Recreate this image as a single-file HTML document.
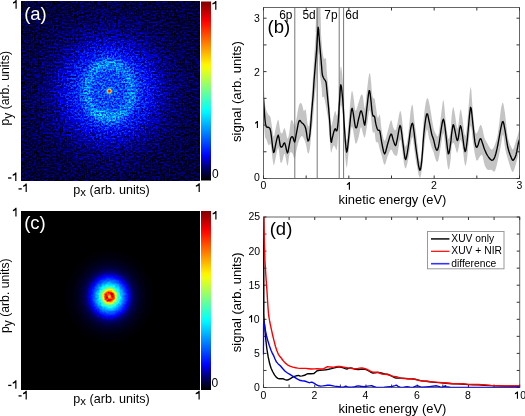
<!DOCTYPE html>
<html><head><meta charset="utf-8"><style>
html,body{margin:0;padding:0;background:#fff;width:525px;height:416px;overflow:hidden}
svg{display:block;will-change:transform}
text{font-family:"Liberation Sans",sans-serif}
</style></head><body>
<svg width="525" height="416" viewBox="0 0 525 416">
<defs>
<linearGradient id="jetv" x1="0" y1="1" x2="0" y2="0">
<stop offset="0.000" stop-color="#000000"/>
<stop offset="0.025" stop-color="#000026"/>
<stop offset="0.050" stop-color="#00004c"/>
<stop offset="0.075" stop-color="#000076"/>
<stop offset="0.100" stop-color="#0000aa"/>
<stop offset="0.125" stop-color="#0000df"/>
<stop offset="0.150" stop-color="#000aff"/>
<stop offset="0.175" stop-color="#0024ff"/>
<stop offset="0.200" stop-color="#003dff"/>
<stop offset="0.225" stop-color="#0057ff"/>
<stop offset="0.250" stop-color="#0070ff"/>
<stop offset="0.275" stop-color="#008aff"/>
<stop offset="0.300" stop-color="#00a3ff"/>
<stop offset="0.325" stop-color="#00bdff"/>
<stop offset="0.350" stop-color="#00d6ff"/>
<stop offset="0.375" stop-color="#00f0ff"/>
<stop offset="0.400" stop-color="#0afff5"/>
<stop offset="0.425" stop-color="#24ffdb"/>
<stop offset="0.450" stop-color="#3dffc2"/>
<stop offset="0.475" stop-color="#57ffa8"/>
<stop offset="0.500" stop-color="#70ff8f"/>
<stop offset="0.525" stop-color="#8aff75"/>
<stop offset="0.550" stop-color="#a3ff5c"/>
<stop offset="0.575" stop-color="#bdff42"/>
<stop offset="0.600" stop-color="#d6ff29"/>
<stop offset="0.625" stop-color="#f0ff0f"/>
<stop offset="0.650" stop-color="#fff500"/>
<stop offset="0.675" stop-color="#ffdb00"/>
<stop offset="0.700" stop-color="#ffc200"/>
<stop offset="0.725" stop-color="#ffa800"/>
<stop offset="0.750" stop-color="#ff8f00"/>
<stop offset="0.775" stop-color="#ff7500"/>
<stop offset="0.800" stop-color="#ff5c00"/>
<stop offset="0.825" stop-color="#ff4200"/>
<stop offset="0.850" stop-color="#ff2900"/>
<stop offset="0.875" stop-color="#ff0f00"/>
<stop offset="0.900" stop-color="#f30000"/>
<stop offset="0.925" stop-color="#d60000"/>
<stop offset="0.950" stop-color="#b90000"/>
<stop offset="0.975" stop-color="#9c0000"/>
<stop offset="1.000" stop-color="#800000"/>
</linearGradient>
<radialGradient id="gah" gradientUnits="userSpaceOnUse" cx="109.3" cy="91.1" r="130">
<stop offset="0.0000" stop-color="#373737"/>
<stop offset="0.0077" stop-color="#373737"/>
<stop offset="0.0154" stop-color="#373737"/>
<stop offset="0.0231" stop-color="#363636"/>
<stop offset="0.0308" stop-color="#363636"/>
<stop offset="0.0385" stop-color="#363636"/>
<stop offset="0.0462" stop-color="#363636"/>
<stop offset="0.0538" stop-color="#363636"/>
<stop offset="0.0615" stop-color="#363636"/>
<stop offset="0.0692" stop-color="#363636"/>
<stop offset="0.0769" stop-color="#363636"/>
<stop offset="0.0846" stop-color="#353535"/>
<stop offset="0.0923" stop-color="#353535"/>
<stop offset="0.1000" stop-color="#353535"/>
<stop offset="0.1077" stop-color="#343434"/>
<stop offset="0.1154" stop-color="#343434"/>
<stop offset="0.1231" stop-color="#343434"/>
<stop offset="0.1308" stop-color="#333333"/>
<stop offset="0.1385" stop-color="#333333"/>
<stop offset="0.1462" stop-color="#333333"/>
<stop offset="0.1538" stop-color="#323232"/>
<stop offset="0.1615" stop-color="#323232"/>
<stop offset="0.1692" stop-color="#313131"/>
<stop offset="0.1769" stop-color="#313131"/>
<stop offset="0.1846" stop-color="#303030"/>
<stop offset="0.1923" stop-color="#303030"/>
<stop offset="0.2000" stop-color="#303030"/>
<stop offset="0.2077" stop-color="#2f2f2f"/>
<stop offset="0.2154" stop-color="#2f2f2f"/>
<stop offset="0.2231" stop-color="#2e2e2e"/>
<stop offset="0.2308" stop-color="#2e2e2e"/>
<stop offset="0.2385" stop-color="#2d2d2d"/>
<stop offset="0.2462" stop-color="#2c2c2c"/>
<stop offset="0.2538" stop-color="#2c2c2c"/>
<stop offset="0.2615" stop-color="#2b2b2b"/>
<stop offset="0.2692" stop-color="#2a2a2a"/>
<stop offset="0.2769" stop-color="#292929"/>
<stop offset="0.2846" stop-color="#282828"/>
<stop offset="0.2923" stop-color="#282828"/>
<stop offset="0.3000" stop-color="#262626"/>
<stop offset="0.3077" stop-color="#252525"/>
<stop offset="0.3154" stop-color="#242424"/>
<stop offset="0.3231" stop-color="#232323"/>
<stop offset="0.3308" stop-color="#222222"/>
<stop offset="0.3385" stop-color="#212121"/>
<stop offset="0.3462" stop-color="#202020"/>
<stop offset="0.3538" stop-color="#1f1f1f"/>
<stop offset="0.3615" stop-color="#1e1e1e"/>
<stop offset="0.3692" stop-color="#1d1d1d"/>
<stop offset="0.3769" stop-color="#1c1c1c"/>
<stop offset="0.3846" stop-color="#1b1b1b"/>
<stop offset="0.3923" stop-color="#1b1b1b"/>
<stop offset="0.4000" stop-color="#1a1a1a"/>
<stop offset="0.4077" stop-color="#191919"/>
<stop offset="0.4154" stop-color="#181818"/>
<stop offset="0.4231" stop-color="#171717"/>
<stop offset="0.4308" stop-color="#161616"/>
<stop offset="0.4385" stop-color="#161616"/>
<stop offset="0.4462" stop-color="#151515"/>
<stop offset="0.4538" stop-color="#151515"/>
<stop offset="0.4615" stop-color="#141414"/>
<stop offset="0.4692" stop-color="#131313"/>
<stop offset="0.4769" stop-color="#131313"/>
<stop offset="0.4846" stop-color="#121212"/>
<stop offset="0.4923" stop-color="#111111"/>
<stop offset="0.5000" stop-color="#111111"/>
<stop offset="0.5077" stop-color="#111111"/>
<stop offset="0.5154" stop-color="#101010"/>
<stop offset="0.5231" stop-color="#101010"/>
<stop offset="0.5308" stop-color="#101010"/>
<stop offset="0.5385" stop-color="#0f0f0f"/>
<stop offset="0.5462" stop-color="#0f0f0f"/>
<stop offset="0.5538" stop-color="#0f0f0f"/>
<stop offset="0.5615" stop-color="#0e0e0e"/>
<stop offset="0.5692" stop-color="#0e0e0e"/>
<stop offset="0.5769" stop-color="#0e0e0e"/>
<stop offset="0.5846" stop-color="#0d0d0d"/>
<stop offset="0.5923" stop-color="#0d0d0d"/>
<stop offset="0.6000" stop-color="#0d0d0d"/>
<stop offset="0.6077" stop-color="#0d0d0d"/>
<stop offset="0.6154" stop-color="#0c0c0c"/>
<stop offset="0.6231" stop-color="#0c0c0c"/>
<stop offset="0.6308" stop-color="#0c0c0c"/>
<stop offset="0.6385" stop-color="#0c0c0c"/>
<stop offset="0.6462" stop-color="#0c0c0c"/>
<stop offset="0.6538" stop-color="#0c0c0c"/>
<stop offset="0.6615" stop-color="#0b0b0b"/>
<stop offset="0.6692" stop-color="#0b0b0b"/>
<stop offset="0.6769" stop-color="#0b0b0b"/>
<stop offset="0.6846" stop-color="#0b0b0b"/>
<stop offset="0.6923" stop-color="#0b0b0b"/>
<stop offset="0.7000" stop-color="#0b0b0b"/>
<stop offset="0.7077" stop-color="#0b0b0b"/>
<stop offset="0.7154" stop-color="#0b0b0b"/>
<stop offset="0.7231" stop-color="#0a0a0a"/>
<stop offset="0.7308" stop-color="#0a0a0a"/>
<stop offset="0.7385" stop-color="#0a0a0a"/>
<stop offset="0.7462" stop-color="#0a0a0a"/>
<stop offset="0.7538" stop-color="#0a0a0a"/>
<stop offset="0.7615" stop-color="#0a0a0a"/>
<stop offset="0.7692" stop-color="#0a0a0a"/>
<stop offset="0.7769" stop-color="#0a0a0a"/>
<stop offset="0.7846" stop-color="#0a0a0a"/>
<stop offset="0.7923" stop-color="#0a0a0a"/>
<stop offset="0.8000" stop-color="#0a0a0a"/>
<stop offset="0.8077" stop-color="#0a0a0a"/>
<stop offset="0.8154" stop-color="#090909"/>
<stop offset="0.8231" stop-color="#090909"/>
<stop offset="0.8308" stop-color="#090909"/>
<stop offset="0.8385" stop-color="#090909"/>
<stop offset="0.8462" stop-color="#090909"/>
<stop offset="0.8538" stop-color="#090909"/>
<stop offset="0.8615" stop-color="#090909"/>
<stop offset="0.8692" stop-color="#090909"/>
<stop offset="0.8769" stop-color="#090909"/>
<stop offset="0.8846" stop-color="#090909"/>
<stop offset="0.8923" stop-color="#090909"/>
<stop offset="0.9000" stop-color="#090909"/>
<stop offset="0.9077" stop-color="#090909"/>
<stop offset="0.9154" stop-color="#090909"/>
<stop offset="0.9231" stop-color="#090909"/>
<stop offset="0.9308" stop-color="#090909"/>
<stop offset="0.9385" stop-color="#090909"/>
<stop offset="0.9462" stop-color="#090909"/>
<stop offset="0.9538" stop-color="#090909"/>
<stop offset="0.9615" stop-color="#090909"/>
<stop offset="0.9692" stop-color="#090909"/>
<stop offset="0.9769" stop-color="#090909"/>
<stop offset="0.9846" stop-color="#090909"/>
<stop offset="0.9923" stop-color="#090909"/>
<stop offset="1.0000" stop-color="#090909"/>
</radialGradient>
<radialGradient id="gar" gradientUnits="userSpaceOnUse" cx="109.3" cy="91.1" r="60" gradientTransform="translate(109.3 91.1) scale(1 1.25) translate(-109.3 -91.1)">
<stop offset="0.0000" stop-color="#fff" stop-opacity="0.0000"/>
<stop offset="0.0083" stop-color="#fff" stop-opacity="0.0000"/>
<stop offset="0.0167" stop-color="#fff" stop-opacity="0.0000"/>
<stop offset="0.0250" stop-color="#fff" stop-opacity="0.0000"/>
<stop offset="0.0333" stop-color="#fff" stop-opacity="0.0000"/>
<stop offset="0.0417" stop-color="#fff" stop-opacity="0.0000"/>
<stop offset="0.0500" stop-color="#fff" stop-opacity="0.0000"/>
<stop offset="0.0583" stop-color="#fff" stop-opacity="0.0000"/>
<stop offset="0.0667" stop-color="#fff" stop-opacity="0.0000"/>
<stop offset="0.0750" stop-color="#fff" stop-opacity="0.0000"/>
<stop offset="0.0833" stop-color="#fff" stop-opacity="0.0000"/>
<stop offset="0.0917" stop-color="#fff" stop-opacity="0.0000"/>
<stop offset="0.1000" stop-color="#fff" stop-opacity="0.0000"/>
<stop offset="0.1083" stop-color="#fff" stop-opacity="0.0000"/>
<stop offset="0.1167" stop-color="#fff" stop-opacity="0.0000"/>
<stop offset="0.1250" stop-color="#fff" stop-opacity="0.0000"/>
<stop offset="0.1333" stop-color="#fff" stop-opacity="0.0000"/>
<stop offset="0.1417" stop-color="#fff" stop-opacity="0.0000"/>
<stop offset="0.1500" stop-color="#fff" stop-opacity="0.0001"/>
<stop offset="0.1583" stop-color="#fff" stop-opacity="0.0001"/>
<stop offset="0.1667" stop-color="#fff" stop-opacity="0.0002"/>
<stop offset="0.1750" stop-color="#fff" stop-opacity="0.0003"/>
<stop offset="0.1833" stop-color="#fff" stop-opacity="0.0005"/>
<stop offset="0.1917" stop-color="#fff" stop-opacity="0.0008"/>
<stop offset="0.2000" stop-color="#fff" stop-opacity="0.0012"/>
<stop offset="0.2083" stop-color="#fff" stop-opacity="0.0017"/>
<stop offset="0.2167" stop-color="#fff" stop-opacity="0.0026"/>
<stop offset="0.2250" stop-color="#fff" stop-opacity="0.0037"/>
<stop offset="0.2333" stop-color="#fff" stop-opacity="0.0053"/>
<stop offset="0.2417" stop-color="#fff" stop-opacity="0.0073"/>
<stop offset="0.2500" stop-color="#fff" stop-opacity="0.0100"/>
<stop offset="0.2583" stop-color="#fff" stop-opacity="0.0134"/>
<stop offset="0.2667" stop-color="#fff" stop-opacity="0.0175"/>
<stop offset="0.2750" stop-color="#fff" stop-opacity="0.0225"/>
<stop offset="0.2833" stop-color="#fff" stop-opacity="0.0283"/>
<stop offset="0.2917" stop-color="#fff" stop-opacity="0.0349"/>
<stop offset="0.3000" stop-color="#fff" stop-opacity="0.0423"/>
<stop offset="0.3083" stop-color="#fff" stop-opacity="0.0501"/>
<stop offset="0.3167" stop-color="#fff" stop-opacity="0.0582"/>
<stop offset="0.3250" stop-color="#fff" stop-opacity="0.0663"/>
<stop offset="0.3333" stop-color="#fff" stop-opacity="0.0740"/>
<stop offset="0.3417" stop-color="#fff" stop-opacity="0.0810"/>
<stop offset="0.3500" stop-color="#fff" stop-opacity="0.0868"/>
<stop offset="0.3583" stop-color="#fff" stop-opacity="0.0913"/>
<stop offset="0.3667" stop-color="#fff" stop-opacity="0.0941"/>
<stop offset="0.3750" stop-color="#fff" stop-opacity="0.0950"/>
<stop offset="0.3833" stop-color="#fff" stop-opacity="0.0941"/>
<stop offset="0.3917" stop-color="#fff" stop-opacity="0.0913"/>
<stop offset="0.4000" stop-color="#fff" stop-opacity="0.0868"/>
<stop offset="0.4083" stop-color="#fff" stop-opacity="0.0810"/>
<stop offset="0.4167" stop-color="#fff" stop-opacity="0.0740"/>
<stop offset="0.4250" stop-color="#fff" stop-opacity="0.0663"/>
<stop offset="0.4333" stop-color="#fff" stop-opacity="0.0582"/>
<stop offset="0.4417" stop-color="#fff" stop-opacity="0.0501"/>
<stop offset="0.4500" stop-color="#fff" stop-opacity="0.0423"/>
<stop offset="0.4583" stop-color="#fff" stop-opacity="0.0349"/>
<stop offset="0.4667" stop-color="#fff" stop-opacity="0.0283"/>
<stop offset="0.4750" stop-color="#fff" stop-opacity="0.0225"/>
<stop offset="0.4833" stop-color="#fff" stop-opacity="0.0175"/>
<stop offset="0.4917" stop-color="#fff" stop-opacity="0.0134"/>
<stop offset="0.5000" stop-color="#fff" stop-opacity="0.0100"/>
<stop offset="0.5083" stop-color="#fff" stop-opacity="0.0073"/>
<stop offset="0.5167" stop-color="#fff" stop-opacity="0.0053"/>
<stop offset="0.5250" stop-color="#fff" stop-opacity="0.0037"/>
<stop offset="0.5333" stop-color="#fff" stop-opacity="0.0026"/>
<stop offset="0.5417" stop-color="#fff" stop-opacity="0.0017"/>
<stop offset="0.5500" stop-color="#fff" stop-opacity="0.0012"/>
<stop offset="0.5583" stop-color="#fff" stop-opacity="0.0008"/>
<stop offset="0.5667" stop-color="#fff" stop-opacity="0.0005"/>
<stop offset="0.5750" stop-color="#fff" stop-opacity="0.0003"/>
<stop offset="0.5833" stop-color="#fff" stop-opacity="0.0002"/>
<stop offset="0.5917" stop-color="#fff" stop-opacity="0.0001"/>
<stop offset="0.6000" stop-color="#fff" stop-opacity="0.0001"/>
<stop offset="0.6083" stop-color="#fff" stop-opacity="0.0000"/>
<stop offset="0.6167" stop-color="#fff" stop-opacity="0.0000"/>
<stop offset="0.6250" stop-color="#fff" stop-opacity="0.0000"/>
<stop offset="0.6333" stop-color="#fff" stop-opacity="0.0000"/>
<stop offset="0.6417" stop-color="#fff" stop-opacity="0.0000"/>
<stop offset="0.6500" stop-color="#fff" stop-opacity="0.0000"/>
<stop offset="0.6583" stop-color="#fff" stop-opacity="0.0000"/>
<stop offset="0.6667" stop-color="#fff" stop-opacity="0.0000"/>
<stop offset="0.6750" stop-color="#fff" stop-opacity="0.0000"/>
<stop offset="0.6833" stop-color="#fff" stop-opacity="0.0000"/>
<stop offset="0.6917" stop-color="#fff" stop-opacity="0.0000"/>
<stop offset="0.7000" stop-color="#fff" stop-opacity="0.0000"/>
<stop offset="0.7083" stop-color="#fff" stop-opacity="0.0000"/>
<stop offset="0.7167" stop-color="#fff" stop-opacity="0.0000"/>
<stop offset="0.7250" stop-color="#fff" stop-opacity="0.0000"/>
<stop offset="0.7333" stop-color="#fff" stop-opacity="0.0000"/>
<stop offset="0.7417" stop-color="#fff" stop-opacity="0.0000"/>
<stop offset="0.7500" stop-color="#fff" stop-opacity="0.0000"/>
<stop offset="0.7583" stop-color="#fff" stop-opacity="0.0000"/>
<stop offset="0.7667" stop-color="#fff" stop-opacity="0.0000"/>
<stop offset="0.7750" stop-color="#fff" stop-opacity="0.0000"/>
<stop offset="0.7833" stop-color="#fff" stop-opacity="0.0000"/>
<stop offset="0.7917" stop-color="#fff" stop-opacity="0.0000"/>
<stop offset="0.8000" stop-color="#fff" stop-opacity="0.0000"/>
<stop offset="0.8083" stop-color="#fff" stop-opacity="0.0000"/>
<stop offset="0.8167" stop-color="#fff" stop-opacity="0.0000"/>
<stop offset="0.8250" stop-color="#fff" stop-opacity="0.0000"/>
<stop offset="0.8333" stop-color="#fff" stop-opacity="0.0000"/>
<stop offset="0.8417" stop-color="#fff" stop-opacity="0.0000"/>
<stop offset="0.8500" stop-color="#fff" stop-opacity="0.0000"/>
<stop offset="0.8583" stop-color="#fff" stop-opacity="0.0000"/>
<stop offset="0.8667" stop-color="#fff" stop-opacity="0.0000"/>
<stop offset="0.8750" stop-color="#fff" stop-opacity="0.0000"/>
<stop offset="0.8833" stop-color="#fff" stop-opacity="0.0000"/>
<stop offset="0.8917" stop-color="#fff" stop-opacity="0.0000"/>
<stop offset="0.9000" stop-color="#fff" stop-opacity="0.0000"/>
<stop offset="0.9083" stop-color="#fff" stop-opacity="0.0000"/>
<stop offset="0.9167" stop-color="#fff" stop-opacity="0.0000"/>
<stop offset="0.9250" stop-color="#fff" stop-opacity="0.0000"/>
<stop offset="0.9333" stop-color="#fff" stop-opacity="0.0000"/>
<stop offset="0.9417" stop-color="#fff" stop-opacity="0.0000"/>
<stop offset="0.9500" stop-color="#fff" stop-opacity="0.0000"/>
<stop offset="0.9583" stop-color="#fff" stop-opacity="0.0000"/>
<stop offset="0.9667" stop-color="#fff" stop-opacity="0.0000"/>
<stop offset="0.9750" stop-color="#fff" stop-opacity="0.0000"/>
<stop offset="0.9833" stop-color="#fff" stop-opacity="0.0000"/>
<stop offset="0.9917" stop-color="#fff" stop-opacity="0.0000"/>
<stop offset="1.0000" stop-color="#fff" stop-opacity="0.0000"/>
</radialGradient>
<radialGradient id="gbl"><stop offset="0" stop-color="#fff" stop-opacity="0.07"/><stop offset="1" stop-color="#fff" stop-opacity="0"/></radialGradient>
<radialGradient id="gbl2"><stop offset="0" stop-color="#fff" stop-opacity="0.035"/><stop offset="1" stop-color="#fff" stop-opacity="0"/></radialGradient>
<radialGradient id="gas" gradientUnits="userSpaceOnUse" cx="109.3" cy="91.1" r="6">
<stop offset="0.0000" stop-color="#c00000" stop-opacity="1.000"/>
<stop offset="0.1167" stop-color="#ff1000" stop-opacity="1.000"/>
<stop offset="0.2333" stop-color="#ff8000" stop-opacity="1.000"/>
<stop offset="0.3333" stop-color="#e0ff20" stop-opacity="0.850"/>
<stop offset="0.4667" stop-color="#30d0ff" stop-opacity="0.500"/>
<stop offset="0.6667" stop-color="#20a0ff" stop-opacity="0.200"/>
<stop offset="1.0000" stop-color="#0060ff" stop-opacity="0.000"/>
</radialGradient>
<radialGradient id="gc" gradientUnits="userSpaceOnUse" cx="109.4" cy="296.5" r="60" gradientTransform="translate(109.4 296.5) scale(1 1.06) translate(-109.4 -296.5)">
<stop offset="0.0000" stop-color="#999999"/>
<stop offset="0.0042" stop-color="#9f9f9f"/>
<stop offset="0.0083" stop-color="#a6a6a6"/>
<stop offset="0.0125" stop-color="#acacac"/>
<stop offset="0.0167" stop-color="#b2b2b2"/>
<stop offset="0.0208" stop-color="#bcbcbc"/>
<stop offset="0.0250" stop-color="#c6c6c6"/>
<stop offset="0.0292" stop-color="#cfcfcf"/>
<stop offset="0.0333" stop-color="#d9d9d9"/>
<stop offset="0.0375" stop-color="#dcdcdc"/>
<stop offset="0.0417" stop-color="#dfdfdf"/>
<stop offset="0.0458" stop-color="#e2e2e2"/>
<stop offset="0.0500" stop-color="#e6e6e6"/>
<stop offset="0.0542" stop-color="#e5e5e5"/>
<stop offset="0.0583" stop-color="#e4e4e4"/>
<stop offset="0.0625" stop-color="#e3e3e3"/>
<stop offset="0.0667" stop-color="#e2e2e2"/>
<stop offset="0.0708" stop-color="#dbdbdb"/>
<stop offset="0.0750" stop-color="#d4d4d4"/>
<stop offset="0.0792" stop-color="#cecece"/>
<stop offset="0.0833" stop-color="#c7c7c7"/>
<stop offset="0.0875" stop-color="#bfbfbf"/>
<stop offset="0.0917" stop-color="#b8b8b8"/>
<stop offset="0.0958" stop-color="#b0b0b0"/>
<stop offset="0.1000" stop-color="#a8a8a8"/>
<stop offset="0.1042" stop-color="#a3a3a3"/>
<stop offset="0.1083" stop-color="#9d9d9d"/>
<stop offset="0.1125" stop-color="#979797"/>
<stop offset="0.1167" stop-color="#919191"/>
<stop offset="0.1208" stop-color="#8d8d8d"/>
<stop offset="0.1250" stop-color="#888888"/>
<stop offset="0.1292" stop-color="#848484"/>
<stop offset="0.1333" stop-color="#808080"/>
<stop offset="0.1375" stop-color="#7d7d7d"/>
<stop offset="0.1417" stop-color="#7a7a7a"/>
<stop offset="0.1458" stop-color="#777777"/>
<stop offset="0.1500" stop-color="#747474"/>
<stop offset="0.1542" stop-color="#717171"/>
<stop offset="0.1583" stop-color="#6e6e6e"/>
<stop offset="0.1625" stop-color="#6b6b6b"/>
<stop offset="0.1667" stop-color="#696969"/>
<stop offset="0.1708" stop-color="#666666"/>
<stop offset="0.1750" stop-color="#636363"/>
<stop offset="0.1792" stop-color="#616161"/>
<stop offset="0.1833" stop-color="#5e5e5e"/>
<stop offset="0.1875" stop-color="#5c5c5c"/>
<stop offset="0.1917" stop-color="#5a5a5a"/>
<stop offset="0.1958" stop-color="#585858"/>
<stop offset="0.2000" stop-color="#555555"/>
<stop offset="0.2042" stop-color="#535353"/>
<stop offset="0.2083" stop-color="#515151"/>
<stop offset="0.2125" stop-color="#4f4f4f"/>
<stop offset="0.2167" stop-color="#4c4c4c"/>
<stop offset="0.2208" stop-color="#4b4b4b"/>
<stop offset="0.2250" stop-color="#494949"/>
<stop offset="0.2292" stop-color="#474747"/>
<stop offset="0.2333" stop-color="#454545"/>
<stop offset="0.2375" stop-color="#434343"/>
<stop offset="0.2417" stop-color="#414141"/>
<stop offset="0.2458" stop-color="#3f3f3f"/>
<stop offset="0.2500" stop-color="#3d3d3d"/>
<stop offset="0.2542" stop-color="#3b3b3b"/>
<stop offset="0.2583" stop-color="#3a3a3a"/>
<stop offset="0.2625" stop-color="#383838"/>
<stop offset="0.2667" stop-color="#363636"/>
<stop offset="0.2708" stop-color="#343434"/>
<stop offset="0.2750" stop-color="#323232"/>
<stop offset="0.2792" stop-color="#313131"/>
<stop offset="0.2833" stop-color="#2f2f2f"/>
<stop offset="0.2875" stop-color="#2d2d2d"/>
<stop offset="0.2917" stop-color="#2b2b2b"/>
<stop offset="0.2958" stop-color="#2a2a2a"/>
<stop offset="0.3000" stop-color="#292929"/>
<stop offset="0.3042" stop-color="#282828"/>
<stop offset="0.3083" stop-color="#262626"/>
<stop offset="0.3125" stop-color="#252525"/>
<stop offset="0.3167" stop-color="#242424"/>
<stop offset="0.3208" stop-color="#222222"/>
<stop offset="0.3250" stop-color="#212121"/>
<stop offset="0.3292" stop-color="#202020"/>
<stop offset="0.3333" stop-color="#1f1f1f"/>
<stop offset="0.3375" stop-color="#1e1e1e"/>
<stop offset="0.3417" stop-color="#1d1d1d"/>
<stop offset="0.3458" stop-color="#1c1c1c"/>
<stop offset="0.3500" stop-color="#1b1b1b"/>
<stop offset="0.3542" stop-color="#1a1a1a"/>
<stop offset="0.3583" stop-color="#191919"/>
<stop offset="0.3625" stop-color="#181818"/>
<stop offset="0.3667" stop-color="#171717"/>
<stop offset="0.3708" stop-color="#161616"/>
<stop offset="0.3750" stop-color="#151515"/>
<stop offset="0.3792" stop-color="#141414"/>
<stop offset="0.3833" stop-color="#131313"/>
<stop offset="0.3875" stop-color="#121212"/>
<stop offset="0.3917" stop-color="#121212"/>
<stop offset="0.3958" stop-color="#111111"/>
<stop offset="0.4000" stop-color="#111111"/>
<stop offset="0.4042" stop-color="#101010"/>
<stop offset="0.4083" stop-color="#0f0f0f"/>
<stop offset="0.4125" stop-color="#0f0f0f"/>
<stop offset="0.4167" stop-color="#0e0e0e"/>
<stop offset="0.4208" stop-color="#0d0d0d"/>
<stop offset="0.4250" stop-color="#0d0d0d"/>
<stop offset="0.4292" stop-color="#0c0c0c"/>
<stop offset="0.4333" stop-color="#0b0b0b"/>
<stop offset="0.4375" stop-color="#0b0b0b"/>
<stop offset="0.4417" stop-color="#0b0b0b"/>
<stop offset="0.4458" stop-color="#0b0b0b"/>
<stop offset="0.4500" stop-color="#0a0a0a"/>
<stop offset="0.4542" stop-color="#0a0a0a"/>
<stop offset="0.4583" stop-color="#0a0a0a"/>
<stop offset="0.4625" stop-color="#090909"/>
<stop offset="0.4667" stop-color="#090909"/>
<stop offset="0.4708" stop-color="#090909"/>
<stop offset="0.4750" stop-color="#080808"/>
<stop offset="0.4792" stop-color="#080808"/>
<stop offset="0.4833" stop-color="#080808"/>
<stop offset="0.4875" stop-color="#070707"/>
<stop offset="0.4917" stop-color="#070707"/>
<stop offset="0.4958" stop-color="#070707"/>
<stop offset="0.5000" stop-color="#060606"/>
<stop offset="0.5042" stop-color="#060606"/>
<stop offset="0.5083" stop-color="#060606"/>
<stop offset="0.5125" stop-color="#060606"/>
<stop offset="0.5167" stop-color="#060606"/>
<stop offset="0.5208" stop-color="#060606"/>
<stop offset="0.5250" stop-color="#050505"/>
<stop offset="0.5292" stop-color="#050505"/>
<stop offset="0.5333" stop-color="#050505"/>
<stop offset="0.5375" stop-color="#050505"/>
<stop offset="0.5417" stop-color="#050505"/>
<stop offset="0.5458" stop-color="#050505"/>
<stop offset="0.5500" stop-color="#040404"/>
<stop offset="0.5542" stop-color="#040404"/>
<stop offset="0.5583" stop-color="#040404"/>
<stop offset="0.5625" stop-color="#040404"/>
<stop offset="0.5667" stop-color="#040404"/>
<stop offset="0.5708" stop-color="#040404"/>
<stop offset="0.5750" stop-color="#040404"/>
<stop offset="0.5792" stop-color="#030303"/>
<stop offset="0.5833" stop-color="#030303"/>
<stop offset="0.5875" stop-color="#030303"/>
<stop offset="0.5917" stop-color="#030303"/>
<stop offset="0.5958" stop-color="#030303"/>
<stop offset="0.6000" stop-color="#030303"/>
<stop offset="0.6042" stop-color="#020202"/>
<stop offset="0.6083" stop-color="#020202"/>
<stop offset="0.6125" stop-color="#020202"/>
<stop offset="0.6167" stop-color="#020202"/>
<stop offset="0.6208" stop-color="#020202"/>
<stop offset="0.6250" stop-color="#020202"/>
<stop offset="0.6292" stop-color="#020202"/>
<stop offset="0.6333" stop-color="#020202"/>
<stop offset="0.6375" stop-color="#020202"/>
<stop offset="0.6417" stop-color="#020202"/>
<stop offset="0.6458" stop-color="#020202"/>
<stop offset="0.6500" stop-color="#020202"/>
<stop offset="0.6542" stop-color="#020202"/>
<stop offset="0.6583" stop-color="#020202"/>
<stop offset="0.6625" stop-color="#010101"/>
<stop offset="0.6667" stop-color="#010101"/>
<stop offset="0.6708" stop-color="#010101"/>
<stop offset="0.6750" stop-color="#010101"/>
<stop offset="0.6792" stop-color="#010101"/>
<stop offset="0.6833" stop-color="#010101"/>
<stop offset="0.6875" stop-color="#010101"/>
<stop offset="0.6917" stop-color="#010101"/>
<stop offset="0.6958" stop-color="#010101"/>
<stop offset="0.7000" stop-color="#010101"/>
<stop offset="0.7042" stop-color="#010101"/>
<stop offset="0.7083" stop-color="#010101"/>
<stop offset="0.7125" stop-color="#010101"/>
<stop offset="0.7167" stop-color="#010101"/>
<stop offset="0.7208" stop-color="#000000"/>
<stop offset="0.7250" stop-color="#000000"/>
<stop offset="0.7292" stop-color="#000000"/>
<stop offset="0.7333" stop-color="#000000"/>
<stop offset="0.7375" stop-color="#000000"/>
<stop offset="0.7417" stop-color="#000000"/>
<stop offset="0.7458" stop-color="#000000"/>
<stop offset="0.7500" stop-color="#000000"/>
<stop offset="0.7542" stop-color="#000000"/>
<stop offset="0.7583" stop-color="#000000"/>
<stop offset="0.7625" stop-color="#000000"/>
<stop offset="0.7667" stop-color="#000000"/>
<stop offset="0.7708" stop-color="#000000"/>
<stop offset="0.7750" stop-color="#000000"/>
<stop offset="0.7792" stop-color="#000000"/>
<stop offset="0.7833" stop-color="#000000"/>
<stop offset="0.7875" stop-color="#000000"/>
<stop offset="0.7917" stop-color="#000000"/>
<stop offset="0.7958" stop-color="#000000"/>
<stop offset="0.8000" stop-color="#000000"/>
<stop offset="0.8042" stop-color="#000000"/>
<stop offset="0.8083" stop-color="#000000"/>
<stop offset="0.8125" stop-color="#000000"/>
<stop offset="0.8167" stop-color="#000000"/>
<stop offset="0.8208" stop-color="#000000"/>
<stop offset="0.8250" stop-color="#000000"/>
<stop offset="0.8292" stop-color="#000000"/>
<stop offset="0.8333" stop-color="#000000"/>
<stop offset="0.8375" stop-color="#000000"/>
<stop offset="0.8417" stop-color="#000000"/>
<stop offset="0.8458" stop-color="#000000"/>
<stop offset="0.8500" stop-color="#000000"/>
<stop offset="0.8542" stop-color="#000000"/>
<stop offset="0.8583" stop-color="#000000"/>
<stop offset="0.8625" stop-color="#000000"/>
<stop offset="0.8667" stop-color="#000000"/>
<stop offset="0.8708" stop-color="#000000"/>
<stop offset="0.8750" stop-color="#000000"/>
<stop offset="0.8792" stop-color="#000000"/>
<stop offset="0.8833" stop-color="#000000"/>
<stop offset="0.8875" stop-color="#000000"/>
<stop offset="0.8917" stop-color="#000000"/>
<stop offset="0.8958" stop-color="#000000"/>
<stop offset="0.9000" stop-color="#000000"/>
<stop offset="0.9042" stop-color="#000000"/>
<stop offset="0.9083" stop-color="#000000"/>
<stop offset="0.9125" stop-color="#000000"/>
<stop offset="0.9167" stop-color="#000000"/>
<stop offset="0.9208" stop-color="#000000"/>
<stop offset="0.9250" stop-color="#000000"/>
<stop offset="0.9292" stop-color="#000000"/>
<stop offset="0.9333" stop-color="#000000"/>
<stop offset="0.9375" stop-color="#000000"/>
<stop offset="0.9417" stop-color="#000000"/>
<stop offset="0.9458" stop-color="#000000"/>
<stop offset="0.9500" stop-color="#000000"/>
<stop offset="0.9542" stop-color="#000000"/>
<stop offset="0.9583" stop-color="#000000"/>
<stop offset="0.9625" stop-color="#000000"/>
<stop offset="0.9667" stop-color="#000000"/>
<stop offset="0.9708" stop-color="#000000"/>
<stop offset="0.9750" stop-color="#000000"/>
<stop offset="0.9792" stop-color="#000000"/>
<stop offset="0.9833" stop-color="#000000"/>
<stop offset="0.9875" stop-color="#000000"/>
<stop offset="0.9917" stop-color="#000000"/>
<stop offset="0.9958" stop-color="#000000"/>
<stop offset="1.0000" stop-color="#000000"/>
</radialGradient>
<filter id="fa" x="21" y="1.5" width="179" height="179" filterUnits="userSpaceOnUse" color-interpolation-filters="sRGB">
<feTurbulence type="fractalNoise" baseFrequency="0.55" numOctaves="2" seed="11" result="n"/>
<feColorMatrix in="n" type="matrix" values="1 0 0 0 0  1 0 0 0 0  1 0 0 0 0  0 0 0 0 1" result="nz"/>
<feComponentTransfer in="nz" result="nz2"><feFuncR type="linear" slope="2.2" intercept="-0.6"/><feFuncG type="linear" slope="2.2" intercept="-0.6"/><feFuncB type="linear" slope="2.2" intercept="-0.6"/></feComponentTransfer>
<feComposite in="SourceGraphic" in2="nz2" operator="arithmetic" k1="0.5" k2="0.75" k3="0.1" k4="-0.05" result="m"/>
<feComponentTransfer in="m">
<feFuncR type="table" tableValues="0.000 0.000 0.000 0.000 0.000 0.000 0.000 0.000 0.000 0.000 0.000 0.000 0.000 0.000 0.000 0.000 0.000 0.000 0.000 0.000 0.000 0.000 0.000 0.000 0.000 0.000 0.000 0.000 0.000 0.000 0.000 0.000 0.000 0.000 0.000 0.000 0.000 0.000 0.000 0.000 0.040 0.080 0.120 0.160 0.200 0.240 0.280 0.320 0.360 0.400 0.440 0.480 0.520 0.560 0.600 0.640 0.680 0.720 0.760 0.800 0.840 0.880 0.920 0.960 1.000 1.000 1.000 1.000 1.000 1.000 1.000 1.000 1.000 1.000 1.000 1.000 1.000 1.000 1.000 1.000 1.000 1.000 1.000 1.000 1.000 1.000 1.000 1.000 1.000 1.000 0.955 0.909 0.864 0.818 0.773 0.727 0.682 0.636 0.591 0.545 0.500"/>
<feFuncG type="table" tableValues="0.000 0.000 0.000 0.000 0.000 0.000 0.000 0.000 0.000 0.000 0.000 0.000 0.000 0.000 0.000 0.040 0.080 0.120 0.160 0.200 0.240 0.280 0.320 0.360 0.400 0.440 0.480 0.520 0.560 0.600 0.640 0.680 0.720 0.760 0.800 0.840 0.880 0.920 0.960 1.000 1.000 1.000 1.000 1.000 1.000 1.000 1.000 1.000 1.000 1.000 1.000 1.000 1.000 1.000 1.000 1.000 1.000 1.000 1.000 1.000 1.000 1.000 1.000 1.000 1.000 0.960 0.920 0.880 0.840 0.800 0.760 0.720 0.680 0.640 0.600 0.560 0.520 0.480 0.440 0.400 0.360 0.320 0.280 0.240 0.200 0.160 0.120 0.080 0.040 0.000 0.000 0.000 0.000 0.000 0.000 0.000 0.000 0.000 0.000 0.000 0.000"/>
<feFuncB type="table" tableValues="0.000 0.060 0.120 0.180 0.240 0.300 0.360 0.420 0.503 0.586 0.669 0.751 0.834 0.917 1.000 1.000 1.000 1.000 1.000 1.000 1.000 1.000 1.000 1.000 1.000 1.000 1.000 1.000 1.000 1.000 1.000 1.000 1.000 1.000 1.000 1.000 1.000 1.000 1.000 1.000 0.960 0.920 0.880 0.840 0.800 0.760 0.720 0.680 0.640 0.600 0.560 0.520 0.480 0.440 0.400 0.360 0.320 0.280 0.240 0.200 0.160 0.120 0.080 0.040 0.000 0.000 0.000 0.000 0.000 0.000 0.000 0.000 0.000 0.000 0.000 0.000 0.000 0.000 0.000 0.000 0.000 0.000 0.000 0.000 0.000 0.000 0.000 0.000 0.000 0.000 0.000 0.000 0.000 0.000 0.000 0.000 0.000 0.000 0.000 0.000 0.000"/>
<feFuncA type="linear" slope="0" intercept="1"/>
</feComponentTransfer>
</filter>
<filter id="fc" x="21" y="211" width="179" height="179" filterUnits="userSpaceOnUse" color-interpolation-filters="sRGB">
<feTurbulence type="fractalNoise" baseFrequency="0.45" numOctaves="1" seed="4" result="n"/>
<feColorMatrix in="n" type="matrix" values="1 0 0 0 0  1 0 0 0 0  1 0 0 0 0  0 0 0 0 1" result="nz"/>
<feComponentTransfer in="nz" result="nz2"><feFuncR type="linear" slope="2.0" intercept="-0.5"/><feFuncG type="linear" slope="2.0" intercept="-0.5"/><feFuncB type="linear" slope="2.0" intercept="-0.5"/></feComponentTransfer>
<feComposite in="SourceGraphic" in2="nz2" operator="arithmetic" k1="0.2" k2="0.9" k3="0" k4="0" result="m"/>
<feComponentTransfer in="m">
<feFuncR type="table" tableValues="0.000 0.000 0.000 0.000 0.000 0.000 0.000 0.000 0.000 0.000 0.000 0.000 0.000 0.000 0.000 0.000 0.000 0.000 0.000 0.000 0.000 0.000 0.000 0.000 0.000 0.000 0.000 0.000 0.000 0.000 0.000 0.000 0.000 0.000 0.000 0.000 0.000 0.000 0.000 0.000 0.040 0.080 0.120 0.160 0.200 0.240 0.280 0.320 0.360 0.400 0.440 0.480 0.520 0.560 0.600 0.640 0.680 0.720 0.760 0.800 0.840 0.880 0.920 0.960 1.000 1.000 1.000 1.000 1.000 1.000 1.000 1.000 1.000 1.000 1.000 1.000 1.000 1.000 1.000 1.000 1.000 1.000 1.000 1.000 1.000 1.000 1.000 1.000 1.000 1.000 0.955 0.909 0.864 0.818 0.773 0.727 0.682 0.636 0.591 0.545 0.500"/>
<feFuncG type="table" tableValues="0.000 0.000 0.000 0.000 0.000 0.000 0.000 0.000 0.000 0.000 0.000 0.000 0.000 0.000 0.000 0.040 0.080 0.120 0.160 0.200 0.240 0.280 0.320 0.360 0.400 0.440 0.480 0.520 0.560 0.600 0.640 0.680 0.720 0.760 0.800 0.840 0.880 0.920 0.960 1.000 1.000 1.000 1.000 1.000 1.000 1.000 1.000 1.000 1.000 1.000 1.000 1.000 1.000 1.000 1.000 1.000 1.000 1.000 1.000 1.000 1.000 1.000 1.000 1.000 1.000 0.960 0.920 0.880 0.840 0.800 0.760 0.720 0.680 0.640 0.600 0.560 0.520 0.480 0.440 0.400 0.360 0.320 0.280 0.240 0.200 0.160 0.120 0.080 0.040 0.000 0.000 0.000 0.000 0.000 0.000 0.000 0.000 0.000 0.000 0.000 0.000"/>
<feFuncB type="table" tableValues="0.000 0.060 0.120 0.180 0.240 0.300 0.360 0.420 0.503 0.586 0.669 0.751 0.834 0.917 1.000 1.000 1.000 1.000 1.000 1.000 1.000 1.000 1.000 1.000 1.000 1.000 1.000 1.000 1.000 1.000 1.000 1.000 1.000 1.000 1.000 1.000 1.000 1.000 1.000 1.000 0.960 0.920 0.880 0.840 0.800 0.760 0.720 0.680 0.640 0.600 0.560 0.520 0.480 0.440 0.400 0.360 0.320 0.280 0.240 0.200 0.160 0.120 0.080 0.040 0.000 0.000 0.000 0.000 0.000 0.000 0.000 0.000 0.000 0.000 0.000 0.000 0.000 0.000 0.000 0.000 0.000 0.000 0.000 0.000 0.000 0.000 0.000 0.000 0.000 0.000 0.000 0.000 0.000 0.000 0.000 0.000 0.000 0.000 0.000 0.000 0.000"/>
<feFuncA type="linear" slope="0" intercept="1"/>
</feComponentTransfer>
</filter>
<clipPath id="cb"><rect x="263.5" y="7.5" width="256.0" height="171.0"/></clipPath>
<clipPath id="cd"><rect x="262.5" y="217.0" width="257.20000000000005" height="170.5"/></clipPath>
</defs>

<g filter="url(#fa)">
<rect x="21" y="1.5" width="179" height="179" fill="url(#gah)"/>
<rect x="21" y="1.5" width="179" height="179" fill="url(#gar)"/>
<ellipse cx="106" cy="114" rx="22" ry="9" fill="url(#gbl)"/><ellipse cx="104" cy="66" rx="18" ry="7" fill="url(#gbl2)"/>
</g>
<circle cx="109.3" cy="91.1" r="6" fill="url(#gas)"/>
<rect x="201" y="1.5" width="10" height="179" fill="url(#jetv)"/>
<text x="24.15" y="19.55" font-size="18.5" fill="#fff">(a)</text>

<rect x="21" y="211" width="179" height="179" fill="url(#gc)" filter="url(#fc)"/>
<rect x="201" y="211" width="10" height="179" fill="url(#jetv)"/>
<text x="24.15" y="228.95" font-size="18.5" fill="#fff">(c)</text>

<g fill="#000">
<polygon points="16.70,0.10 16.70,8.80 15.50,8.80 15.50,2.71 13.40,3.58 13.00,3.41 13.00,2.36 14.90,1.14 15.70,0.10"/>
<rect x="8.04" y="177.35" width="3.36" height="1.30"/><polygon points="16.40,172.40 16.40,180.95 15.20,180.95 15.20,174.97 13.10,175.82 12.70,175.65 12.70,174.62 14.60,173.43 15.40,172.40"/>
<rect x="18.50" y="188.25" width="3.30" height="1.30"/><polygon points="26.80,183.50 26.80,191.90 25.60,191.90 25.60,186.02 23.40,186.86 23.00,186.69 23.00,185.68 25.00,184.51 25.80,183.50"/>
<polygon points="199.80,183.20 199.80,191.90 198.60,191.90 198.60,185.81 196.20,186.68 195.80,186.51 195.80,185.46 198.00,184.24 198.80,183.20"/>
<polygon points="216.40,1.00 216.40,9.70 215.20,9.70 215.20,3.61 212.80,4.48 212.40,4.31 212.40,3.26 214.60,2.04 215.40,1.00"/>
<polygon points="16.55,207.70 16.55,216.60 15.35,216.60 15.35,210.37 13.30,211.26 12.90,211.08 12.90,210.01 14.75,208.77 15.55,207.70"/>
<rect x="8.20" y="384.75" width="3.20" height="1.30"/><polygon points="16.45,380.20 16.45,388.80 15.25,388.80 15.25,382.78 13.10,383.64 12.70,383.47 12.70,382.44 14.65,381.23 15.45,380.20"/>
<rect x="18.50" y="395.25" width="3.10" height="1.30"/><polygon points="26.80,390.80 26.80,399.60 25.60,399.60 25.60,393.44 23.40,394.32 23.00,394.14 23.00,393.09 25.00,391.86 25.80,390.80"/>
<polygon points="199.70,390.80 199.70,399.60 198.50,399.60 198.50,393.44 196.10,394.32 195.70,394.14 195.70,393.09 197.90,391.86 198.70,390.80"/>
<polygon points="216.50,211.00 216.50,219.60 215.30,219.60 215.30,213.58 213.00,214.44 212.60,214.27 212.60,213.24 214.70,212.03 215.50,211.00"/>
</g>
<g font-size="12" fill="#000">
<text x="211.9" y="177.9">0</text>
<text x="211.5" y="386.7">0</text>
</g>

<g font-size="13" fill="#000">
<text x="73.3" y="193.8" font-size="12.6">p<tspan font-size="11.4" dy="2.0">x</tspan><tspan dy="-2.0"> (arb. units)</tspan></text>
<text x="73.3" y="403.3" font-size="12.6">p<tspan font-size="11.4" dy="2.0">x</tspan><tspan dy="-2.0"> (arb. units)</tspan></text>
<text transform="translate(9.1 125.6) rotate(-90)" font-size="12.25">p<tspan font-size="12.0" dy="2.6">y</tspan><tspan dy="-2.6"> (arb. units)</tspan></text>
<text transform="translate(9.1 333.1) rotate(-90)" font-size="12.25">p<tspan font-size="12.0" dy="2.6">y</tspan><tspan dy="-2.6"> (arb. units)</tspan></text>
<text transform="translate(241.3 142) rotate(-90)" font-size="13.15">signal (arb. units)</text>
<text transform="translate(241.3 352.2) rotate(-90)" font-size="13.0">signal (arb. units)</text>
<text x="338.5" y="203.6" font-size="12.95">kinetic energy (eV)</text>
<text x="338.5" y="413.1" font-size="12.95">kinetic energy (eV)</text>
</g>

<g clip-path="url(#cb)">
<polygon points="263.5,81.3 263.9,87.5 264.4,96.1 264.9,103.1 265.3,106.5 265.7,108.3 266.2,109.9 267.0,112.0 267.9,113.8 268.7,115.3 269.4,115.8 270.0,116.0 270.7,117.9 271.6,123.9 272.6,131.7 273.5,136.5 274.3,135.6 275.0,131.7 275.8,127.8 276.6,124.3 277.5,120.8 278.3,119.6 279.0,122.4 279.7,127.5 280.3,131.5 280.9,133.1 281.5,133.6 282.2,133.3 283.0,131.4 283.8,128.8 284.7,128.0 285.6,131.0 286.6,135.8 287.4,138.7 288.1,138.1 288.7,135.7 289.3,132.7 289.8,128.8 290.3,124.4 290.8,121.1 291.4,120.0 292.1,120.2 292.8,121.0 293.4,123.0 294.1,125.6 294.7,126.7 295.3,125.0 295.9,121.8 296.6,118.1 297.4,113.5 298.2,108.5 299.1,104.8 300.0,103.3 300.9,103.1 301.8,103.9 302.5,106.1 303.2,109.1 303.8,111.2 304.4,110.8 305.0,109.3 305.7,109.8 306.5,114.8 307.2,121.8 308.0,126.2 308.7,126.2 309.3,123.7 309.9,119.4 310.5,112.7 311.1,104.2 311.6,96.2 312.1,89.6 312.5,83.5 313.0,76.7 313.5,69.1 313.9,60.8 314.5,51.9 315.2,41.9 316.0,31.2 316.7,21.4 317.2,11.8 317.7,3.0 318.1,-1.6 318.6,0.5 319.0,6.8 319.5,13.2 319.9,18.5 320.3,23.8 320.7,29.0 321.1,34.2 321.4,39.2 321.7,43.4 321.9,46.3 322.1,48.4 322.4,50.6 322.8,53.5 323.3,56.5 323.9,58.7 324.6,58.8 325.4,58.0 326.0,58.7 326.3,62.2 326.5,67.1 326.8,72.1 327.2,76.6 327.7,81.1 328.2,86.1 328.7,92.0 329.1,98.4 329.6,105.0 330.1,112.5 330.5,120.2 331.0,125.2 331.5,126.1 331.9,124.4 332.4,122.2 332.9,120.0 333.4,117.3 333.9,115.0 334.4,113.0 334.8,111.4 335.3,110.7 335.8,112.2 336.3,114.8 336.8,115.7 337.3,114.3 337.7,111.4 338.2,106.6 338.7,98.7 339.1,88.9 339.6,80.4 340.0,73.8 340.4,68.5 340.8,66.2 341.4,67.6 342.0,72.0 342.7,79.5 343.4,91.6 344.0,106.7 344.7,119.7 345.3,129.6 346.0,137.4 346.6,140.8 347.2,138.1 347.8,131.1 348.5,122.7 349.4,112.3 350.5,100.5 351.4,92.4 352.1,90.5 352.7,92.4 353.3,95.5 353.9,100.1 354.6,106.0 355.2,110.1 355.7,110.9 356.3,109.9 356.8,108.4 357.4,106.8 358.0,104.6 358.7,102.3 359.5,99.7 360.2,96.9 361.0,95.1 361.7,94.4 362.3,94.7 362.9,96.3 363.5,100.8 364.2,106.6 364.8,109.0 365.4,105.5 366.1,98.5 366.8,91.6 367.6,85.0 368.4,78.3 369.1,74.0 369.6,72.9 370.1,74.1 370.6,77.2 371.2,83.1 371.8,90.8 372.5,96.6 373.2,98.2 373.9,97.9 374.5,98.4 375.0,100.6 375.4,103.5 375.9,106.8 376.5,110.9 377.1,115.3 377.8,118.1 378.5,117.3 379.1,114.9 379.8,114.6 380.4,118.6 381.0,124.7 381.7,130.3 382.6,134.9 383.6,139.0 384.6,141.0 385.5,139.5 386.5,135.9 387.5,131.9 388.7,127.5 389.9,122.8 391.0,120.1 391.8,121.3 392.5,124.5 393.2,127.3 394.0,129.0 394.8,130.2 395.5,130.3 396.2,128.9 396.8,126.3 397.5,123.2 398.3,118.8 399.2,113.9 400.0,111.0 400.7,111.4 401.3,113.8 401.9,117.9 402.5,124.5 403.2,132.7 403.8,139.3 404.4,143.5 405.0,146.0 405.7,146.5 406.5,144.5 407.4,140.4 408.2,135.0 409.0,127.6 409.8,118.8 410.5,111.8 411.2,107.5 411.9,104.9 412.5,104.7 413.1,108.0 413.6,113.7 414.2,119.5 414.8,124.2 415.5,129.0 416.3,135.0 417.4,144.4 418.5,155.1 419.6,161.5 420.4,161.2 421.0,156.6 421.7,149.7 422.4,139.5 423.1,127.0 423.9,116.2 424.8,108.4 425.8,102.5 426.7,98.8 427.5,97.9 428.2,99.1 428.9,101.7 429.8,105.8 430.7,111.1 431.5,116.2 432.2,120.6 432.9,124.7 433.6,128.2 434.4,130.9 435.3,133.0 436.2,134.5 436.9,136.0 437.6,136.8 438.4,135.2 439.3,129.5 440.3,121.4 441.2,114.1 442.0,107.5 442.7,101.7 443.4,99.7 444.1,103.8 444.8,111.6 445.5,119.4 446.4,126.9 447.4,134.3 448.3,138.7 449.1,138.4 449.9,135.1 450.5,130.9 451.0,126.0 451.3,120.3 451.7,115.3 452.2,111.5 452.7,108.4 453.2,107.0 453.7,107.8 454.2,110.3 454.8,113.6 455.5,118.1 456.2,123.4 456.9,127.1 457.4,128.5 457.7,128.3 458.2,126.3 458.9,120.8 459.6,113.6 460.4,109.3 461.1,110.2 461.8,113.9 462.5,118.6 463.3,125.0 464.2,132.3 465.1,136.1 465.8,134.7 466.5,130.0 467.3,122.6 468.3,110.1 469.5,95.0 470.5,86.5 471.3,89.9 472.0,99.9 472.7,109.6 473.4,117.4 474.2,124.9 474.9,130.4 475.6,133.0 476.2,133.6 477.0,133.0 478.1,130.7 479.2,127.2 480.3,125.0 481.1,125.1 481.7,126.4 482.4,128.5 483.1,131.5 483.8,135.2 484.6,138.3 485.5,140.3 486.4,141.8 487.5,143.5 488.8,145.9 490.3,148.4 491.6,149.7 492.7,149.1 493.8,147.3 494.8,144.7 495.9,141.7 497.0,137.8 498.0,132.7 499.0,125.1 500.0,116.3 500.9,109.3 501.7,105.2 502.3,103.0 503.0,102.8 503.7,105.2 504.4,109.6 505.2,115.1 506.0,122.2 506.9,130.5 507.8,137.3 508.9,141.6 510.0,144.5 511.0,146.6 511.8,148.4 512.5,149.4 513.2,149.2 514.1,147.1 515.1,143.8 516.0,140.7 516.8,138.1 517.6,135.8 518.2,133.5 518.7,131.4 519.2,129.4 519.5,128.0 519.5,150.6 519.2,151.6 518.7,153.0 518.2,155.0 517.6,157.6 516.8,160.7 516.0,163.7 515.1,166.8 514.1,169.9 513.2,171.7 512.5,172.0 511.8,171.0 511.0,169.2 510.0,166.3 508.9,162.6 507.8,158.9 506.9,155.7 506.0,152.5 505.2,148.8 504.4,143.3 503.7,137.3 503.0,134.2 502.3,136.0 501.7,140.6 500.9,145.5 500.0,150.1 499.0,155.0 498.0,159.6 497.0,164.2 495.9,168.4 494.8,171.2 493.8,171.7 492.7,170.7 491.6,169.8 490.3,169.8 488.8,170.0 487.5,169.7 486.4,168.6 485.5,167.0 484.6,165.0 483.8,161.8 483.1,158.2 482.4,155.6 481.7,154.8 481.1,155.1 480.3,155.9 479.2,157.6 478.1,159.7 477.0,160.7 476.2,159.7 475.6,157.4 474.9,154.3 474.2,150.2 473.4,145.3 472.7,140.3 472.0,133.8 471.3,127.3 470.5,125.8 469.5,133.5 468.3,146.3 467.3,156.6 466.5,162.2 465.8,165.5 465.1,165.6 464.2,161.0 463.3,153.2 462.5,146.8 461.8,143.0 461.1,140.6 460.4,140.0 459.6,142.3 458.9,146.4 458.2,149.8 457.7,151.7 457.4,152.7 456.9,152.7 456.2,150.8 455.5,147.8 454.8,145.4 454.2,144.0 453.7,143.1 453.2,142.9 452.7,143.1 452.2,144.0 451.7,146.1 451.3,150.4 451.0,155.9 450.5,160.7 449.9,165.2 449.1,169.0 448.3,169.6 447.4,164.9 446.4,156.9 445.5,149.3 444.8,142.7 444.1,136.6 443.4,133.3 442.7,134.6 442.0,138.8 441.2,143.7 440.3,149.2 439.3,155.4 438.4,159.9 437.6,161.7 436.9,161.8 436.2,160.8 435.3,158.6 434.4,155.3 433.6,152.3 432.9,150.5 432.2,149.0 431.5,147.0 430.7,144.2 429.8,140.9 428.9,137.7 428.2,133.8 427.5,130.0 426.7,129.5 425.8,134.3 424.8,142.4 423.9,150.4 423.1,157.7 422.4,165.0 421.7,170.7 421.0,174.9 420.4,177.6 419.6,177.8 418.5,174.4 417.4,168.6 416.3,163.0 415.5,158.2 414.8,153.6 414.2,149.1 413.6,144.3 413.1,139.6 412.5,137.0 411.9,137.8 411.2,140.7 410.5,144.4 409.8,148.9 409.0,154.3 408.2,159.1 407.4,163.2 406.5,166.7 405.7,168.5 405.0,168.0 404.4,165.7 403.8,162.4 403.2,157.9 402.5,152.3 401.9,147.6 401.3,143.5 400.7,140.2 400.0,139.4 399.2,143.0 398.3,149.2 397.5,153.9 396.8,155.6 396.2,155.9 395.5,155.7 394.8,155.2 394.0,154.3 393.2,153.2 392.5,151.6 391.8,149.9 391.0,149.4 389.9,151.0 388.7,153.8 387.5,156.7 386.5,160.1 385.5,163.6 384.6,165.1 383.6,163.2 382.6,159.3 381.7,155.8 381.0,153.5 380.4,151.5 379.8,149.4 379.1,146.8 378.5,144.1 377.8,142.2 377.1,141.9 376.5,142.4 375.9,141.8 375.4,139.0 375.0,135.2 374.5,132.3 373.9,132.1 373.2,132.7 372.5,131.5 371.8,126.1 371.2,118.9 370.6,113.4 370.1,110.9 369.6,110.2 369.1,111.4 368.4,115.5 367.6,121.6 366.8,127.2 366.1,131.6 365.4,135.4 364.8,137.6 364.2,137.4 363.5,135.6 362.9,133.5 362.3,130.9 361.7,128.0 361.0,127.0 360.2,129.1 359.5,133.1 358.7,136.7 358.0,139.2 357.4,141.3 356.8,142.8 356.3,143.6 355.7,143.8 355.2,142.8 354.6,139.6 353.9,135.2 353.3,131.6 352.7,128.7 352.1,126.5 351.4,127.6 350.5,134.2 349.4,144.1 348.5,152.9 347.8,159.9 347.2,165.8 346.6,167.9 346.0,164.7 345.3,157.8 344.7,149.2 344.0,138.3 343.4,125.8 342.7,115.7 342.0,109.6 341.4,106.0 340.8,104.8 340.4,106.5 340.0,110.6 339.6,115.6 339.1,121.5 338.7,128.4 338.2,134.8 337.7,140.7 337.3,146.0 336.8,149.5 336.3,150.1 335.8,148.9 335.3,147.6 334.8,146.7 334.4,145.8 333.9,145.5 333.4,146.1 332.9,147.3 332.4,148.6 331.9,150.5 331.5,152.4 331.0,152.4 330.5,149.2 330.1,144.0 329.6,138.3 329.1,132.1 328.7,125.4 328.2,119.8 327.7,116.2 327.2,113.8 326.8,111.6 326.5,109.9 326.3,108.5 326.0,106.6 325.4,103.4 324.6,99.6 323.9,97.0 323.3,96.7 322.8,97.4 322.4,97.2 322.1,94.9 321.9,91.5 321.7,88.3 321.4,85.8 321.1,83.3 320.7,80.6 320.3,77.8 319.9,74.7 319.5,70.7 319.0,63.6 318.6,55.6 318.1,52.4 317.7,57.6 317.2,67.6 316.7,77.3 316.0,85.2 315.2,92.7 314.5,99.9 313.9,106.7 313.5,113.1 313.0,118.7 312.5,122.9 312.1,126.4 311.6,130.5 311.1,136.4 310.5,142.9 309.9,148.2 309.3,151.4 308.7,153.4 308.0,153.5 307.2,151.2 306.5,147.0 305.7,143.5 305.0,141.4 304.4,139.8 303.8,138.5 303.2,137.3 302.5,136.3 301.8,136.0 300.9,136.7 300.0,138.2 299.1,140.2 298.2,142.9 297.4,146.1 296.6,149.4 295.9,153.0 295.3,156.7 294.7,158.8 294.1,158.1 293.4,156.0 292.8,154.1 292.1,153.0 291.4,152.3 290.8,152.1 290.3,152.4 289.8,153.2 289.3,155.0 288.7,159.0 288.1,163.9 287.4,166.1 286.6,162.9 285.6,157.1 284.7,153.6 283.8,155.0 283.0,158.8 282.2,161.6 281.5,162.8 280.9,163.1 280.3,161.7 279.7,157.1 279.0,150.9 278.3,147.4 277.5,149.0 276.6,153.2 275.8,157.2 275.0,161.0 274.3,164.5 273.5,164.9 272.6,159.4 271.6,150.8 270.7,144.5 270.0,143.5 269.4,144.9 268.7,145.4 267.9,143.7 267.0,141.3 266.2,139.1 265.7,138.5 265.3,138.1 264.9,136.1 264.4,130.5 263.9,123.2 263.5,117.8" fill="#c4c4c4"/>
<polygon points="316.2,7 320.4,7 321,32 315.6,32" fill="#c4c4c4"/>
</g>
<g stroke="#777" stroke-width="1" fill="none">
<line x1="294.8" y1="7.5" x2="294.8" y2="178.5"/>
<line x1="317.2" y1="7.5" x2="317.2" y2="178.5"/>
<line x1="339.2" y1="7.5" x2="339.2" y2="178.5"/>
<line x1="343.6" y1="7.5" x2="343.6" y2="178.5"/>
</g>
<polyline clip-path="url(#cb)" points="263.5,98.5 263.9,104.2 264.4,112.2 264.9,118.8 265.3,122.5 265.7,124.9 266.2,126.5 267.0,127.2 267.9,127.2 268.7,127.5 269.4,127.9 270.0,128.6 270.7,131.3 271.6,138.2 272.6,147.0 273.5,152.5 274.3,151.8 275.0,147.8 275.8,143.8 276.6,140.2 277.5,136.6 278.3,135.2 279.0,137.7 279.7,142.3 280.3,145.8 280.9,147.0 281.5,147.1 282.2,146.7 283.0,145.3 283.8,143.3 284.7,142.9 285.6,145.9 286.6,150.5 287.4,153.0 288.1,151.6 288.7,148.1 289.3,144.8 289.8,142.2 290.3,139.8 290.8,138.0 291.4,137.0 292.1,136.7 292.8,137.0 293.4,138.8 294.1,141.2 294.7,142.0 295.3,139.9 295.9,136.2 296.6,132.3 297.4,128.1 298.2,123.7 299.1,120.8 300.0,120.4 300.9,121.6 301.8,122.7 302.5,123.3 303.2,123.8 303.8,124.6 304.4,125.4 305.0,126.5 305.7,128.5 306.5,132.7 307.2,137.9 308.0,141.0 308.7,140.7 309.3,138.3 309.9,134.2 310.5,127.9 311.1,119.9 311.6,112.5 312.1,107.0 312.5,102.1 313.0,96.6 313.5,90.0 313.9,82.7 314.5,75.0 315.2,66.5 316.0,57.4 316.7,48.9 317.2,40.0 317.7,31.6 318.1,27.2 318.6,29.3 319.0,35.5 319.5,41.6 319.9,46.5 320.3,51.4 320.7,56.0 321.1,60.2 321.4,64.2 321.7,67.6 321.9,70.5 322.1,72.8 322.4,74.8 322.8,76.3 323.3,77.5 323.9,78.6 324.6,79.7 325.4,80.7 326.0,82.2 326.3,84.1 326.5,86.3 326.8,89.4 327.2,93.6 327.7,98.7 328.2,103.9 328.7,108.9 329.1,114.2 329.6,120.0 330.1,127.8 330.5,136.2 331.0,141.7 331.5,142.2 331.9,139.9 332.4,137.4 332.9,135.5 333.4,133.4 333.9,131.6 334.4,130.3 334.8,129.3 335.3,128.8 335.8,129.6 336.3,130.9 336.8,130.9 337.3,129.1 337.7,126.0 338.2,121.5 338.7,115.0 339.1,107.1 339.6,100.0 340.0,93.4 340.4,87.4 340.8,84.8 341.4,86.7 342.0,92.0 342.7,99.2 343.4,109.1 344.0,121.0 344.7,131.6 345.3,140.5 346.0,148.2 346.6,152.1 347.2,151.0 347.8,146.3 348.5,139.6 349.4,129.7 350.5,117.9 351.4,109.8 352.1,108.3 352.7,110.5 353.3,113.7 353.9,117.7 354.6,122.6 355.2,126.2 355.7,127.7 356.3,127.9 356.8,127.1 357.4,124.9 358.0,121.7 358.7,118.5 359.5,115.4 360.2,112.3 361.0,110.8 361.7,111.6 362.3,113.9 362.9,116.5 363.5,120.1 364.2,124.0 364.8,125.2 365.4,121.7 366.1,115.3 366.8,108.8 367.6,101.9 368.4,94.9 369.1,90.6 369.6,90.6 370.1,93.4 370.6,97.3 371.2,102.9 371.8,109.6 372.5,114.6 373.2,116.2 373.9,116.0 374.5,116.5 375.0,118.7 375.4,121.6 375.9,124.2 376.5,126.5 377.1,128.5 377.8,130.0 378.5,130.3 379.1,130.1 379.8,131.0 380.4,134.0 381.0,138.1 381.7,142.3 382.6,147.0 383.6,151.7 384.6,154.0 385.5,152.4 386.5,148.5 387.5,144.5 388.7,140.5 389.9,136.3 391.0,134.0 391.8,134.8 392.5,137.4 393.2,140.0 394.0,142.4 394.8,144.7 395.5,145.6 396.2,144.2 396.8,141.4 397.5,138.0 398.3,133.4 399.2,128.2 400.0,125.5 400.7,126.7 401.3,130.4 401.9,134.7 402.5,139.6 403.2,145.1 403.8,150.0 404.4,154.4 405.0,158.3 405.7,159.6 406.5,157.2 407.4,152.4 408.2,147.0 409.0,141.1 409.8,134.7 410.5,129.5 411.2,126.0 411.9,123.8 412.5,123.3 413.1,125.1 413.6,128.8 414.2,133.2 414.8,138.3 415.5,144.3 416.3,150.5 417.4,157.9 418.5,165.5 419.6,170.0 420.4,169.9 421.0,166.8 421.7,161.4 422.4,153.1 423.1,142.7 423.9,133.2 424.8,125.1 425.8,118.0 426.7,113.8 427.5,113.8 428.2,116.7 428.9,120.3 429.8,124.4 430.7,129.1 431.5,133.2 432.2,135.7 432.9,137.5 433.6,139.7 434.4,143.2 435.3,147.0 436.2,149.5 436.9,150.3 437.6,149.7 438.4,147.3 439.3,142.0 440.3,135.0 441.2,128.9 442.0,124.2 442.7,120.5 443.4,119.2 444.1,121.2 444.8,125.5 445.5,131.1 446.4,139.1 447.4,148.2 448.3,153.8 449.1,153.0 449.9,148.5 450.5,144.0 451.0,140.4 451.3,136.7 451.7,133.2 452.2,129.7 452.7,126.3 453.2,124.6 453.7,125.2 454.2,127.4 454.8,130.0 455.5,133.3 456.2,137.1 456.9,139.7 457.4,140.6 457.7,140.2 458.2,138.6 458.9,134.3 459.6,128.8 460.4,125.7 461.1,127.0 461.8,130.8 462.5,135.4 463.3,141.4 464.2,148.0 465.1,151.6 465.8,150.5 466.5,146.2 467.3,139.7 468.3,128.7 469.5,115.3 470.5,107.3 471.3,108.7 472.0,115.3 472.7,122.4 473.4,129.1 474.2,136.3 474.9,141.9 475.6,145.3 476.2,147.1 477.0,147.3 478.1,145.0 479.2,141.1 480.3,138.6 481.1,139.0 481.7,140.9 482.4,143.0 483.1,145.0 483.8,147.3 484.6,149.5 485.5,151.6 486.4,153.6 487.5,155.5 488.8,157.5 490.3,159.3 491.6,160.3 492.7,160.2 493.8,159.1 494.8,157.0 495.9,153.5 497.0,148.9 498.0,144.0 499.0,138.5 500.0,132.6 500.9,127.8 501.7,124.3 502.3,122.0 503.0,121.4 503.7,123.2 504.4,126.8 505.2,131.1 506.0,136.3 506.9,142.1 507.8,147.3 508.9,151.3 510.0,154.5 511.0,157.0 511.8,158.9 512.5,160.1 513.2,160.3 514.1,159.3 515.1,157.4 516.0,154.9 516.8,151.4 517.6,147.4 518.2,144.0 518.7,141.9 519.2,140.4 519.5,139.5" fill="none" stroke="#000" stroke-width="1.35" stroke-linejoin="round"/>
<rect x="263.5" y="7.5" width="256.0" height="171.0" fill="none" stroke="#666" stroke-width="1"/>
<g stroke="#333" stroke-width="1"><line x1="263.50" y1="178.50" x2="263.50" y2="175.50"/>
<line x1="263.50" y1="7.50" x2="263.50" y2="10.50"/>
<line x1="306.17" y1="178.50" x2="306.17" y2="175.50"/>
<line x1="306.17" y1="7.50" x2="306.17" y2="10.50"/>
<line x1="348.83" y1="178.50" x2="348.83" y2="175.50"/>
<line x1="348.83" y1="7.50" x2="348.83" y2="10.50"/>
<line x1="391.50" y1="178.50" x2="391.50" y2="175.50"/>
<line x1="391.50" y1="7.50" x2="391.50" y2="10.50"/>
<line x1="434.17" y1="178.50" x2="434.17" y2="175.50"/>
<line x1="434.17" y1="7.50" x2="434.17" y2="10.50"/>
<line x1="476.83" y1="178.50" x2="476.83" y2="175.50"/>
<line x1="476.83" y1="7.50" x2="476.83" y2="10.50"/>
<line x1="519.50" y1="178.50" x2="519.50" y2="175.50"/>
<line x1="519.50" y1="7.50" x2="519.50" y2="10.50"/>
<line x1="263.50" y1="178.50" x2="266.50" y2="178.50"/>
<line x1="519.50" y1="178.50" x2="516.50" y2="178.50"/>
<line x1="263.50" y1="151.78" x2="266.50" y2="151.78"/>
<line x1="519.50" y1="151.78" x2="516.50" y2="151.78"/>
<line x1="263.50" y1="125.06" x2="266.50" y2="125.06"/>
<line x1="519.50" y1="125.06" x2="516.50" y2="125.06"/>
<line x1="263.50" y1="98.34" x2="266.50" y2="98.34"/>
<line x1="519.50" y1="98.34" x2="516.50" y2="98.34"/>
<line x1="263.50" y1="71.62" x2="266.50" y2="71.62"/>
<line x1="519.50" y1="71.62" x2="516.50" y2="71.62"/>
<line x1="263.50" y1="44.91" x2="266.50" y2="44.91"/>
<line x1="519.50" y1="44.91" x2="516.50" y2="44.91"/>
<line x1="263.50" y1="18.19" x2="266.50" y2="18.19"/>
<line x1="519.50" y1="18.19" x2="516.50" y2="18.19"/></g>
<g font-size="11.9" fill="#000">
<text x="279.2" y="18.8">6p</text>
<text x="302.5" y="18.8">5d</text>
<text x="324.3" y="18.8">7p</text>
<text x="345.3" y="18.8">6d</text>
</g>
<g font-size="10.5" fill="#000">
<text x="254" y="21.8">3</text>
<text x="254" y="75.6">2</text>
<text x="254" y="181.3">0</text>
<text x="260.5" y="189.4">0</text>
<text x="431" y="189.4">2</text>
<text x="516.5" y="189.4">3</text>
</g>
<g fill="#000"><polygon points="257.95,120.90 257.95,127.90 256.85,127.90 256.85,123.00 255.45,123.70 255.05,123.56 255.05,122.72 256.25,121.74 257.05,120.90"/><polygon points="349.95,182.00 349.95,189.70 348.85,189.70 348.85,184.31 347.25,185.08 346.85,184.93 346.85,184.00 348.25,182.92 349.05,182.00"/></g>
<text x="267.6" y="32.5" font-size="18.5" fill="#000">(b)</text>

<rect x="263.5" y="217.0" width="256.20000000000005" height="170.5" fill="none" stroke="#666" stroke-width="1"/>
<g stroke="#333" stroke-width="1"><line x1="263.50" y1="387.50" x2="263.50" y2="384.50"/>
<line x1="263.50" y1="217.00" x2="263.50" y2="220.00"/>
<line x1="289.12" y1="387.50" x2="289.12" y2="384.50"/>
<line x1="289.12" y1="217.00" x2="289.12" y2="220.00"/>
<line x1="314.74" y1="387.50" x2="314.74" y2="384.50"/>
<line x1="314.74" y1="217.00" x2="314.74" y2="220.00"/>
<line x1="340.36" y1="387.50" x2="340.36" y2="384.50"/>
<line x1="340.36" y1="217.00" x2="340.36" y2="220.00"/>
<line x1="365.98" y1="387.50" x2="365.98" y2="384.50"/>
<line x1="365.98" y1="217.00" x2="365.98" y2="220.00"/>
<line x1="391.60" y1="387.50" x2="391.60" y2="384.50"/>
<line x1="391.60" y1="217.00" x2="391.60" y2="220.00"/>
<line x1="417.22" y1="387.50" x2="417.22" y2="384.50"/>
<line x1="417.22" y1="217.00" x2="417.22" y2="220.00"/>
<line x1="442.84" y1="387.50" x2="442.84" y2="384.50"/>
<line x1="442.84" y1="217.00" x2="442.84" y2="220.00"/>
<line x1="468.46" y1="387.50" x2="468.46" y2="384.50"/>
<line x1="468.46" y1="217.00" x2="468.46" y2="220.00"/>
<line x1="494.08" y1="387.50" x2="494.08" y2="384.50"/>
<line x1="494.08" y1="217.00" x2="494.08" y2="220.00"/>
<line x1="519.70" y1="387.50" x2="519.70" y2="384.50"/>
<line x1="519.70" y1="217.00" x2="519.70" y2="220.00"/>
<line x1="263.50" y1="387.50" x2="266.50" y2="387.50"/>
<line x1="519.70" y1="387.50" x2="516.70" y2="387.50"/>
<line x1="263.50" y1="370.45" x2="266.50" y2="370.45"/>
<line x1="519.70" y1="370.45" x2="516.70" y2="370.45"/>
<line x1="263.50" y1="353.40" x2="266.50" y2="353.40"/>
<line x1="519.70" y1="353.40" x2="516.70" y2="353.40"/>
<line x1="263.50" y1="336.35" x2="266.50" y2="336.35"/>
<line x1="519.70" y1="336.35" x2="516.70" y2="336.35"/>
<line x1="263.50" y1="319.30" x2="266.50" y2="319.30"/>
<line x1="519.70" y1="319.30" x2="516.70" y2="319.30"/>
<line x1="263.50" y1="302.25" x2="266.50" y2="302.25"/>
<line x1="519.70" y1="302.25" x2="516.70" y2="302.25"/>
<line x1="263.50" y1="285.20" x2="266.50" y2="285.20"/>
<line x1="519.70" y1="285.20" x2="516.70" y2="285.20"/>
<line x1="263.50" y1="268.15" x2="266.50" y2="268.15"/>
<line x1="519.70" y1="268.15" x2="516.70" y2="268.15"/>
<line x1="263.50" y1="251.10" x2="266.50" y2="251.10"/>
<line x1="519.70" y1="251.10" x2="516.70" y2="251.10"/>
<line x1="263.50" y1="234.05" x2="266.50" y2="234.05"/>
<line x1="519.70" y1="234.05" x2="516.70" y2="234.05"/>
<line x1="263.50" y1="217.00" x2="266.50" y2="217.00"/>
<line x1="519.70" y1="217.00" x2="516.70" y2="217.00"/></g>
<g clip-path="url(#cd)" fill="none" stroke-width="1.4" stroke-linejoin="round">
<polyline points="263.8,212.0 263.8,209.3 263.8,217.0 263.8,257.7 263.8,300.0 263.8,313.5 264.0,318.0 264.3,323.5 264.9,329.2 265.7,338.6 266.8,348.5 268.2,356.9 269.7,363.8 271.1,368.2 272.6,371.5 274.5,374.8 276.4,377.3 277.8,378.4 279.3,378.8 281.2,378.8 283.2,378.8 285.1,379.6 287.0,380.2 288.9,379.5 290.8,378.3 292.8,377.2 294.7,376.3 296.8,375.7 298.5,375.4 299.2,375.7 300.0,376.1 302.2,375.9 304.6,375.3 306.2,374.4 308.0,373.6 310.9,373.7 313.7,373.6 315.4,372.2 317.1,370.7 319.9,370.3 322.9,370.1 325.8,369.7 328.6,369.2 331.5,368.6 334.3,367.9 336.7,367.3 338.9,366.9 341.2,367.3 343.4,367.9 345.2,368.6 346.9,369.0 348.5,368.4 350.3,367.9 352.6,368.3 354.9,369.0 356.4,369.4 358.0,369.6 360.8,369.2 363.7,369.0 366.1,369.7 368.3,370.7 370.5,372.0 372.9,373.0 375.6,372.7 378.6,372.4 382.1,373.2 385.4,374.1 387.2,374.3 388.9,374.7 391.8,376.2 394.6,377.6 396.0,378.0 397.4,378.1 399.8,378.1 402.6,378.1 405.4,378.4 408.3,378.7 411.6,378.9 415.1,379.3 418.5,380.1 421.7,380.9 424.6,381.1 427.4,381.3 430.2,381.7 433.1,382.1 435.9,382.4 438.9,382.6 442.2,382.9 445.7,383.2 449.0,383.5 452.6,383.8 457.2,383.9 461.7,384.0 465.1,384.3 468.6,384.6 473.1,384.7 478.4,384.8 484.4,385.2 491.0,385.6 497.9,385.9 505.0,386.1 513.1,386.2 519.5,386.2" stroke="#000"/>
<polyline points="263.7,212.0 263.6,211.8 263.7,217.0 264.2,236.9 264.9,260.0 265.9,276.4 266.9,290.0 267.6,301.2 268.2,310.0 268.8,316.2 269.7,321.5 271.1,328.2 272.6,335.0 274.1,341.1 275.5,346.5 276.9,350.8 278.3,354.2 279.7,356.3 281.2,358.0 283.0,360.5 285.1,362.9 287.4,364.8 289.9,366.2 292.8,367.1 295.7,367.7 297.9,368.1 300.0,368.4 302.8,368.4 305.7,368.4 308.5,368.7 311.4,369.0 314.2,368.9 317.1,368.8 320.1,369.0 322.9,369.0 325.2,367.8 327.4,366.7 329.6,366.9 332.0,367.3 334.8,366.9 337.7,366.4 340.0,366.5 342.3,366.9 345.1,367.4 348.0,367.9 350.9,368.4 353.7,368.8 356.0,368.7 358.0,368.4 359.7,368.1 361.4,367.9 363.7,368.3 366.0,369.0 367.8,369.8 369.4,370.7 371.1,371.6 372.9,372.2 375.1,372.2 377.4,372.2 379.6,373.1 382.0,374.1 384.8,374.3 387.7,374.5 390.1,375.3 392.3,376.1 394.6,376.5 396.9,376.8 399.1,377.6 401.4,378.4 404.1,378.6 407.1,378.7 410.7,378.8 414.0,379.1 416.2,379.6 418.0,380.2 419.7,380.5 421.7,380.7 424.4,381.1 427.4,381.5 430.2,381.7 433.1,381.9 435.9,382.1 438.9,382.4 442.2,382.7 445.7,383.0 449.0,383.3 452.6,383.6 457.2,383.7 461.7,383.8 465.1,384.1 468.6,384.4 473.1,384.4 478.4,384.5 484.4,384.9 491.0,385.4 497.9,385.7 505.0,385.9 513.1,386.0 519.5,386.0" stroke="#ff0000"/>
<polyline points="263.4,354.5 263.4,348.4 263.5,340.0 263.5,329.0 263.7,321.0 264.5,324.2 265.5,331.0 266.5,335.7 267.7,340.3 269.3,345.5 271.0,350.2 272.3,353.1 273.6,355.6 274.9,358.8 276.4,361.9 278.2,363.9 280.3,365.8 282.6,368.5 285.1,371.2 287.5,373.0 289.9,374.4 292.3,375.9 294.7,377.3 297.1,378.9 299.5,380.2 302.1,380.7 304.6,381.0 307.0,381.9 309.1,382.7 310.4,382.4 311.4,382.1 312.8,382.5 314.3,383.3 315.7,384.3 317.1,385.2 318.7,385.8 320.6,386.1 322.8,385.9 325.1,385.6 327.4,385.3 329.7,385.2 332.0,385.6 334.3,386.1 336.6,386.4 338.9,386.7 341.3,387.1 343.4,387.3 344.6,386.7 345.7,386.1 347.2,386.7 349.1,387.3 352.0,387.1 354.9,386.7 356.6,386.2 358.3,385.9 360.7,386.3 363.7,386.7 367.7,386.1 371.7,385.6 373.5,386.5 376.3,387.4 384.3,387.1 392.3,386.4 395.1,385.6 396.3,385.2 398.1,386.3 400.3,387.4 403.6,387.1 407.1,386.7 410.1,387.1 412.9,387.4 415.2,386.4 417.4,385.6 419.1,386.4 422.0,387.3 429.3,386.6 436.6,385.8 439.4,386.6 441.0,387.3 443.4,386.6 445.7,385.8 443.8,386.5 450.0,387.3 485.0,387.4 519.5,387.3" stroke="#0000ff"/>
</g>
<g font-size="10.5" fill="#000">
<text x="248.5" y="220">25</text>
<text x="248.5" y="254.6">20</text>
<text x="248.5" y="288.7">15</text>
<text x="253.7" y="322.9">0</text>
<text x="254" y="356.5">5</text>
<text x="254" y="390.7">0</text>
<text x="260.5" y="398.9">0</text>
<text x="311.5" y="398.9">2</text>
<text x="362.5" y="398.9">4</text>
<text x="414" y="398.9">6</text>
<text x="465" y="398.9">8</text>
<text x="520.3" y="398.9">0</text>
</g>
<g fill="#000"><polygon points="252.10,315.10 252.10,322.30 251.00,322.30 251.00,317.26 249.40,317.98 249.00,317.84 249.00,316.97 250.40,315.96 251.20,315.10"/><polygon points="518.00,391.40 518.00,398.80 516.90,398.80 516.90,393.62 515.30,394.36 514.90,394.21 514.90,393.32 516.30,392.29 517.10,391.40"/></g>
<text x="269.7" y="234.9" font-size="18.5" fill="#000">(d)</text>
<rect x="427.5" y="231.5" width="76.5" height="37.3" fill="#fff" stroke="#999" stroke-width="1"/>
<line x1="431" y1="238.9" x2="449.4" y2="238.9" stroke="#333" stroke-width="1.8"/>
<line x1="431" y1="251.3" x2="449.4" y2="251.3" stroke="#f00" stroke-width="1.2"/>
<line x1="431" y1="263.7" x2="449.4" y2="263.7" stroke="#33f" stroke-width="1.6"/>
<g font-size="10.3" fill="#000">
<text x="451.3" y="241.9">XUV only</text>
<text x="451.3" y="254.2">XUV + NIR</text>
<text x="451.3" y="266.5">difference</text>
</g>
</svg>
</body></html>
